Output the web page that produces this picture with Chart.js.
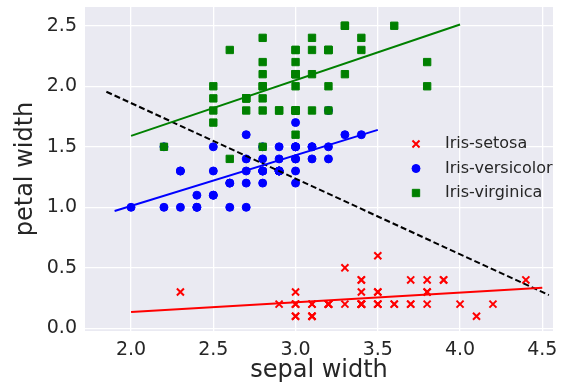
<!DOCTYPE html>
<html>
<head>
<meta charset="utf-8">
<script src="https://cdn.jsdelivr.net/npm/chart.js@4.4.1/dist/chart.umd.min.js"></script>
<style>
  html, body { margin: 0; padding: 0; background: #fff; }
  #wrap { width: 565px; height: 389px; }
</style>
</head>
<body>
<div id="wrap"><canvas id="irisChart" width="565" height="389"></canvas></div>
<script>
// Iris measurements: sepal width (x) against petal width (y)
var setosaSepalWidth = [3.5, 3.0, 3.2, 3.1, 3.6, 3.9, 3.4, 3.4, 2.9, 3.1, 3.7, 3.4, 3.0, 3.0, 4.0, 4.4, 3.9, 3.5, 3.8, 3.8,
                        3.4, 3.7, 3.6, 3.3, 3.4, 3.0, 3.4, 3.5, 3.4, 3.2, 3.1, 3.4, 4.1, 4.2, 3.1, 3.2, 3.5, 3.1, 3.0, 3.4,
                        3.5, 2.3, 3.2, 3.5, 3.8, 3.0, 3.8, 3.2, 3.7, 3.3];
var setosaPetalWidth = [0.2, 0.2, 0.2, 0.2, 0.2, 0.4, 0.3, 0.2, 0.2, 0.1, 0.2, 0.2, 0.1, 0.1, 0.2, 0.4, 0.4, 0.3, 0.3, 0.3,
                        0.2, 0.4, 0.2, 0.5, 0.2, 0.2, 0.4, 0.2, 0.2, 0.2, 0.2, 0.4, 0.1, 0.2, 0.1, 0.2, 0.2, 0.1, 0.2, 0.2,
                        0.3, 0.3, 0.2, 0.6, 0.4, 0.3, 0.2, 0.2, 0.2, 0.2];

var versicolorSepalWidth = [3.2, 3.2, 3.1, 2.3, 2.8, 2.8, 3.3, 2.4, 2.9, 2.7, 2.0, 3.0, 2.2, 2.9, 2.9, 3.1, 3.0, 2.7, 2.2, 2.5,
                            3.2, 2.8, 2.5, 2.8, 2.9, 3.0, 2.8, 3.0, 2.9, 2.6, 2.4, 2.4, 2.7, 2.7, 3.0, 3.4, 3.1, 2.3, 3.0, 2.5,
                            2.6, 3.0, 2.6, 2.3, 2.7, 3.0, 2.9, 2.9, 2.5, 2.8];
var versicolorPetalWidth = [1.4, 1.5, 1.5, 1.3, 1.5, 1.3, 1.6, 1.0, 1.3, 1.4, 1.0, 1.5, 1.0, 1.4, 1.3, 1.4, 1.5, 1.0, 1.5, 1.1,
                            1.8, 1.3, 1.5, 1.2, 1.3, 1.4, 1.4, 1.7, 1.5, 1.0, 1.1, 1.0, 1.2, 1.6, 1.5, 1.6, 1.5, 1.3, 1.3, 1.3,
                            1.2, 1.4, 1.2, 1.0, 1.3, 1.2, 1.3, 1.3, 1.1, 1.3];

var virginicaSepalWidth = [3.3, 2.7, 3.0, 2.9, 3.0, 3.0, 2.5, 2.9, 2.5, 3.6, 3.2, 2.7, 3.0, 2.5, 2.8, 3.2, 3.0, 3.8, 2.6, 2.2,
                           3.2, 2.8, 2.8, 2.7, 3.3, 3.2, 2.8, 3.0, 2.8, 3.0, 2.8, 3.8, 2.8, 2.8, 2.6, 3.0, 3.4, 3.1, 3.0, 3.1,
                           3.1, 3.1, 2.7, 3.2, 3.3, 3.0, 2.5, 3.0, 3.4, 3.0];
var virginicaPetalWidth = [2.5, 1.9, 2.1, 1.8, 2.2, 2.1, 1.7, 1.8, 1.8, 2.5, 2.0, 1.9, 2.1, 2.0, 2.4, 2.3, 1.8, 2.2, 2.3, 1.5,
                           2.3, 2.0, 2.0, 1.8, 2.1, 1.8, 1.8, 1.8, 2.1, 1.6, 1.9, 2.0, 2.2, 1.5, 1.4, 2.3, 2.4, 1.8, 1.8, 2.1,
                           2.4, 2.3, 1.9, 2.3, 2.5, 2.3, 1.9, 2.0, 2.3, 1.8];

// fitted lines per class plus the separating line, as end points
var setosaFitX = [2.0, 4.5];
var setosaFitY = [0.135, 0.335];
var versicolorFitX = [1.9, 3.5];
var versicolorFitY = [0.97, 1.64];
var virginicaFitX = [2.0, 4.0];
var virginicaFitY = [1.59, 2.51];
var boundaryX = [1.85, 4.54];
var boundaryY = [1.955, 0.275];

var classNames = ['Iris-setosa', 'Iris-versicolor', 'Iris-virginica'];
var xTicks = [2.0, 2.5, 3.0, 3.5, 4.0, 4.5];
var yTicks = [0.0, 0.5, 1.0, 1.5, 2.0, 2.5];

function toPoints(xs, ys) {
  var pts = [];
  for (var i = 0; i < xs.length; i++) pts.push({x: xs[i], y: ys[i]});
  return pts;
}

var FONT = "'DejaVu Sans', sans-serif";
var TEXT = '#262626';

function scatterSet(label, xs, ys, color, style, radius, bw, order) {
  return {
    type: 'scatter',
    label: label,
    data: toPoints(xs, ys),
    backgroundColor: color,
    borderColor: color,
    pointStyle: style,
    pointRadius: radius,
    pointBorderWidth: bw,
    pointHoverRadius: radius,
    order: order
  };
}

function lineSet(xs, ys, color, dash, order) {
  return {
    type: 'line',
    label: '',
    data: toPoints(xs, ys),
    borderColor: color,
    borderWidth: 2,
    borderDash: dash,
    pointRadius: 0,
    fill: false,
    showLine: true,
    order: order
  };
}

// legend drawn inside the plot, right of centre
var innerLegend = {
  id: 'innerLegend',
  afterDatasetsDraw: function(chart) {
    var ctx = chart.ctx;
    var area = chart.chartArea;
    var mx = area.right - 137;
    var tx = area.right - 108;
    var y0 = area.top + 137;
    ctx.save();
    ctx.font = '16px ' + FONT;
    ctx.textBaseline = 'middle';
    ctx.textAlign = 'left';
    for (var i = 0; i < 3; i++) {
      var ds = chart.data.datasets[i];
      var y = y0 + i * 24.5;
      ctx.fillStyle = ds.backgroundColor;
      ctx.strokeStyle = ds.borderColor;
      ctx.lineWidth = ds.pointBorderWidth;
      Chart.helpers.drawPoint(ctx, {pointStyle: ds.pointStyle, radius: ds.pointRadius, borderWidth: ds.pointBorderWidth, rotation: 0}, mx, y);
      ctx.fillStyle = TEXT;
      ctx.fillText(ds.label, tx, y);
    }
    ctx.restore();
  }
};

new Chart(document.getElementById('irisChart').getContext('2d'), {
  type: 'scatter',
  data: {
    datasets: [
      scatterSet(classNames[0], setosaSepalWidth, setosaPetalWidth, '#ff0000', 'crossRot', 5, 2, 3),
      scatterSet(classNames[1], versicolorSepalWidth, versicolorPetalWidth, '#0000ff', 'circle', 4, 1, 2),
      scatterSet(classNames[2], virginicaSepalWidth, virginicaPetalWidth, '#008000', 'rect', 5.2, 1, 1),
      lineSet(setosaFitX, setosaFitY, '#ff0000', [], 0),
      lineSet(versicolorFitX, versicolorFitY, '#0000ff', [], 0),
      lineSet(virginicaFitX, virginicaFitY, '#008000', [], 0),
      lineSet(boundaryX, boundaryY, '#000000', [6, 3], 0)
    ]
  },
  options: {
    responsive: false,
    animation: false,
    events: [],
    layout: { padding: { left: 0, right: 12, top: 7, bottom: 0 } },
    plugins: {
      legend: { display: false },
      tooltip: { enabled: false }
    },
    scales: {
      x: {
        type: 'linear',
        min: 1.72,
        max: 4.565,
        afterFit: function(scale) {
          scale.height = 58;
          scale.paddingLeft = 0;
          scale.paddingRight = 0;
        },
        afterBuildTicks: function(scale) { scale.ticks = xTicks.map(function(v) { return {value: v}; }); },
        border: { display: false },
        grid: { color: '#ffffff', lineWidth: 1.3, drawTicks: false },
        ticks: {
          padding: 8,
          color: TEXT,
          font: { family: FONT, size: 19 },
          callback: function(v) { return v.toFixed(1); }
        },
        title: {
          display: true,
          text: 'sepal width',
          color: TEXT,
          font: { family: FONT, size: 24 },
          padding: { top: 0, bottom: 4 }
        }
      },
      y: {
        type: 'linear',
        min: -0.022,
        max: 2.655,
        afterFit: function(scale) {
          scale.width = 85;
          scale.paddingTop = 0;
          scale.paddingBottom = 0;
        },
        afterBuildTicks: function(scale) { scale.ticks = yTicks.map(function(v) { return {value: v}; }); },
        border: { display: false },
        grid: { color: '#ffffff', lineWidth: 1.3, drawTicks: false },
        ticks: {
          padding: 8,
          color: TEXT,
          font: { family: FONT, size: 19 },
          callback: function(v) { return v.toFixed(1); }
        },
        title: {
          display: true,
          text: 'petal width',
          color: TEXT,
          font: { family: FONT, size: 24 },
          padding: { top: 11, bottom: 0 }
        }
      }
    }
  },
  plugins: [
    {
      id: 'plotBackground',
      beforeDraw: function(chart) {
        var a = chart.chartArea;
        chart.ctx.save();
        chart.ctx.fillStyle = '#eaeaf2';
        chart.ctx.fillRect(a.left, a.top, a.right - a.left, a.bottom - a.top);
        chart.ctx.restore();
      }
    },
    innerLegend
  ]
});
</script>
</body>
</html>
